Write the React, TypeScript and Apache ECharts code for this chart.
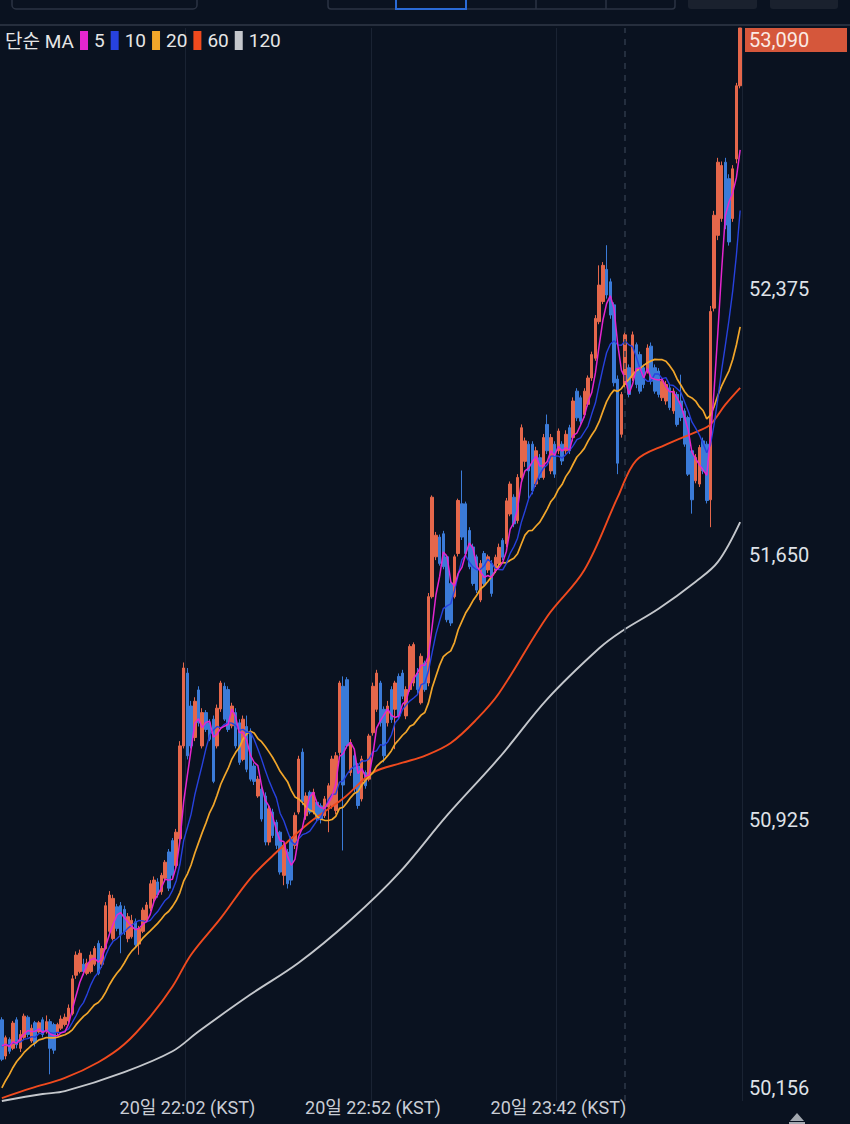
import React, { useEffect, useRef } from "react";
import * as echarts from "echarts";

// closes before the visible window (needed for the first moving-average values)
const historyCloses = [
  49940, 49960, 49975, 49985, 50100, 50130, 50150, 50160, 50180, 50204,
  50280, 50300, 50320, 50290, 50330, 50310, 50325, 50300, 50331,
];

// [open, close, low, high] — one-minute candles from 20일 21:12
const candles: number[][] = [
  [50378, 50270, 50265, 50385], [50279, 50329, 50270, 50335], [50324, 50292, 50285, 50330], [50300, 50369, 50295, 50375],
  [50378, 50310, 50300, 50385], [50300, 50338, 50290, 50350], [50330, 50388, 50325, 50395], [50385, 50338, 50330, 50390],
  [50320, 50355, 50315, 50365], [50370, 50315, 50305, 50375], [50345, 50370, 50340, 50375], [50378, 50338, 50330, 50385],
  [50345, 50373, 50340, 50390], [50373, 50300, 50229, 50380], [50365, 50295, 50285, 50370], [50345, 50365, 50335, 50370],
  [50355, 50380, 50350, 50390], [50365, 50385, 50360, 50395], [50375, 50410, 50370, 50420], [50395, 50490, 50390, 50500],
  [50500, 50555, 50490, 50565], [50510, 50560, 50505, 50570], [50530, 50510, 50500, 50545], [50505, 50533, 50500, 50545],
  [50510, 50555, 50505, 50565], [50530, 50573, 50525, 50580], [50587, 50505, 50500, 50595], [50530, 50573, 50520, 50580],
  [50573, 50690, 50570, 50700], [50620, 50719, 50610, 50730], [50600, 50710, 50595, 50720], [50687, 50628, 50620, 50695],
  [50690, 50610, 50560, 50700], [50680, 50619, 50610, 50690], [50600, 50660, 50590, 50670], [50605, 50650, 50600, 50665],
  [50646, 50583, 50575, 50655], [50585, 50628, 50556, 50635], [50620, 50678, 50615, 50685], [50650, 50692, 50645, 50700],
  [50683, 50750, 50675, 50760], [50710, 50760, 50700, 50770], [50755, 50720, 50712, 50765], [50728, 50773, 50720, 50780],
  [50765, 50809, 50755, 50815], [50837, 50738, 50730, 50845], [50868, 50773, 50765, 50875], [50800, 50891, 50790, 50900],
  [50873, 51127, 50865, 51140], [51127, 51340, 51120, 51355], [51326, 51100, 51090, 51340], [51236, 51127, 51120, 51250],
  [51150, 51249, 51140, 51260], [51280, 51190, 51180, 51290], [51127, 51218, 51120, 51230], [51218, 51172, 51165, 51225],
  [51190, 51145, 51140, 51200], [51200, 51030, 51025, 51210], [51127, 51230, 51120, 51240], [51228, 51299, 51220, 51305],
  [51290, 51200, 51195, 51300], [51281, 51172, 51165, 51290], [51182, 51236, 51175, 51245], [51218, 51127, 51120, 51230],
  [51190, 51082, 51075, 51200], [51090, 51200, 51085, 51210], [51180, 51063, 51055, 51210], [51163, 51036, 51030, 51175],
  [51072, 51030, 51020, 51080], [50990, 51036, 50985, 51045], [51009, 50927, 50920, 51015], [50990, 50864, 50855, 51000],
  [50864, 50955, 50855, 50965], [50946, 50882, 50875, 50955], [50918, 50855, 50845, 50925], [50891, 50782, 50775, 50895],
  [50773, 50855, 50746, 50860], [50837, 50750, 50737, 50845], [50873, 50760, 50746, 50880], [50855, 50937, 50845, 50945],
  [50946, 51091, 50940, 51100], [51110, 50975, 50965, 51120], [50936, 50990, 50925, 51000], [51000, 50946, 50940, 51005],
  [50946, 51000, 50940, 51010], [50973, 50927, 50920, 50980], [50963, 50927, 50915, 50970], [50936, 50982, 50930, 50990],
  [50960, 51018, 50891, 51025], [50964, 51091, 50955, 51100], [50950, 51100, 50940, 51110], [51109, 51299, 51100, 51305],
  [51290, 51020, 50841, 51317], [51308, 51127, 51120, 51315], [51054, 51136, 51045, 51145], [51100, 51009, 51000, 51110],
  [51072, 50964, 50955, 51080], [50982, 51091, 50975, 51100], [51054, 51018, 51010, 51060], [51036, 51154, 51030, 51160],
  [51163, 51290, 51155, 51300], [51227, 51326, 51220, 51335], [51299, 51190, 51180, 51305], [51227, 51100, 51082, 51235],
  [51190, 51236, 51180, 51250], [51281, 51199, 51190, 51290], [51227, 51299, 51118, 51305], [51317, 51209, 51200, 51325],
  [51326, 51263, 51255, 51335], [51209, 51281, 51200, 51290], [51281, 51399, 51275, 51405], [51299, 51404, 51290, 51410],
  [51326, 51281, 51270, 51340], [51245, 51372, 51240, 51380], [51354, 51281, 51275, 51360], [51299, 51535, 51290, 51545],
  [51535, 51807, 51530, 51812], [51644, 51703, 51635, 51712], [51698, 51626, 51620, 51705], [51707, 51617, 51610, 51715],
  [51644, 51472, 51465, 51650], [51571, 51463, 51455, 51580], [51535, 51644, 51530, 51650], [51653, 51798, 51645, 51803],
  [51789, 51698, 51690, 51880], [51789, 51653, 51645, 51795], [51716, 51617, 51610, 51725], [51671, 51571, 51565, 51680],
  [51644, 51553, 51545, 51650], [51526, 51626, 51520, 51635], [51653, 51571, 51565, 51660], [51608, 51644, 51600, 51650],
  [51626, 51544, 51535, 51635], [51607, 51643, 51600, 51650], [51625, 51670, 51615, 51680], [51689, 51643, 51635, 51695],
  [51680, 51797, 51670, 51805], [51761, 51843, 51755, 51850], [51807, 51734, 51725, 51815], [51743, 51861, 51735, 51870],
  [51861, 51997, 51855, 52006], [51905, 51961, 51890, 51970], [51952, 51879, 51800, 51960], [51952, 51825, 51815, 51960],
  [51843, 51934, 51835, 51945], [51915, 51861, 51855, 51925], [51861, 51970, 51855, 51980], [52006, 51934, 51925, 52033],
  [51879, 51970, 51870, 51980], [51952, 51870, 51860, 51960], [51934, 51988, 51925, 51995], [51952, 51906, 51895, 51960],
  [51934, 51979, 51925, 51990], [51997, 51934, 51925, 52005], [51970, 52070, 51960, 52080], [52097, 52024, 52015, 52105],
  [52079, 52015, 52005, 52085], [52033, 52097, 52025, 52105], [52061, 52133, 52055, 52140], [52133, 52197, 52125, 52205],
  [52187, 52296, 52180, 52305], [52287, 52387, 52280, 52441], [52342, 52441, 52335, 52450], [52430, 52360, 52350, 52496],
  [52396, 52305, 52295, 52405], [52333, 52120, 52110, 52340], [52130, 51900, 51870, 52140], [51979, 52088, 51970, 52095],
  [52115, 52251, 52105, 52260], [52161, 52088, 52080, 52170], [52133, 52251, 52125, 52260], [52224, 52115, 52105, 52230],
  [52197, 52097, 52090, 52205], [52161, 52115, 52105, 52170], [52152, 52215, 52145, 52225], [52220, 52124, 52115, 52230],
  [52161, 52097, 52090, 52170], [52152, 52088, 52080, 52160], [52079, 52124, 52070, 52130], [52070, 52115, 52060, 52125],
  [52106, 52052, 52045, 52115], [52043, 52097, 52035, 52105], [52088, 52006, 52000, 52095], [52070, 52025, 52015, 52142],
  [52043, 51952, 51945, 52050], [52025, 51870, 51865, 52030], [51934, 51800, 51762, 51940], [51852, 51916, 51845, 51925],
  [51843, 51943, 51835, 51950], [51961, 51879, 51870, 51970], [51952, 51798, 51790, 51960], [51800, 52315, 51725, 52330],
  [52324, 52578, 52315, 52590], [52523, 52723, 52510, 52735], [52569, 52714, 52560, 52725], [52723, 52551, 52540, 52735],
  [52678, 52505, 52495, 52690], [52569, 52705, 52560, 52715], [52732, 52932, 52720, 52940], [52932, 53090, 52925, 53090],
];

// long moving averages: [candle index, value]
const ma60Points = [
  [0, 50164], [8, 50191], [17, 50219], [26, 50262], [33, 50311], [40, 50387], [46, 50469], [51, 50556],
  [59, 50656], [67, 50765], [74, 50836], [83, 50918], [92, 50983], [100, 51054], [108, 51081], [114, 51100],
  [121, 51135], [128, 51200], [134, 51271], [147, 51481], [157, 51608], [166, 51807], [171, 51908], [179, 51951],
  [188, 51989], [191, 52006], [195, 52060], [199, 52106],
];
const ma120Points = [
  [0, 50156], [11, 50175], [17, 50183], [33, 50235], [46, 50292], [53, 50346], [67, 50447], [80, 50534],
  [94, 50651], [107, 50779], [120, 50937], [134, 51094], [147, 51255], [161, 51394], [167, 51440], [177, 51502],
  [187, 51576], [193, 51630], [199, 51739],
];

const yTickValues = [50156, 50925, 51650, 52375, 53090];
const currentPrice = 53090;
const xLabelIndices = [50, 100, 150];
const midnightIndex = 168;
const startMinute = 21 * 60 + 12;
const startDay = 20;
const maNames = ["5", "10", "20", "60", "120"];
const maColors = ["#e526cf", "#2742de", "#f2a62a", "#f04a1e", "#c4c7cc"];

const pad = (n: number) => (n < 10 ? "0" + n : "" + n);
const categories = candles.map((_, i) => {
  const m = startMinute + i;
  const day = startDay + Math.floor(m / 1440);
  const mm = m % 1440;
  return `${day}일 ${pad(Math.floor(mm / 60))}:${pad(mm % 60)} (KST)`;
});

const closes = candles.map((c) => c[1]);
const allCloses = historyCloses.concat(closes);
function movingAverage(n: number) {
  return closes.map((_, i) => {
    const end = i + historyCloses.length;
    let s = 0;
    for (let k = end - n + 1; k <= end; k++) s += allCloses[k];
    return Math.round((s / n) * 10) / 10;
  });
}

const FONT = 'Roboto, "Noto Sans CJK KR", sans-serif';
const UP = "#e5674b";
const DOWN = "#3b7bd8";
const BG = "#0a1220";

export default function App() {
  const ref = useRef<HTMLDivElement>(null);
  useEffect(() => {
    if (!ref.current) return;
    const chart = echarts.init(ref.current, undefined, { renderer: "svg" });
    const lineSeries = (name: string, data: any, color: string, width: number, smooth: number | boolean) => ({
      name,
      type: "line",
      data,
      color,
      showSymbol: false,
      symbol: "none",
      smooth,
      silent: true,
      itemStyle: { color },
      lineStyle: { color, width },
      z: 3,
    });
    chart.setOption({
      animation: false,
      backgroundColor: BG,
      grid: { left: 0, right: 105, top: 28, bottom: 17 },
      legend: {
        left: 80,
        top: 31,
        padding: 0,
        itemWidth: 8,
        itemHeight: 19,
        itemGap: 6,
        icon: "rect",
        selectedMode: false,
        data: maNames,
        textStyle: { color: "#e6e6e6", fontSize: 19, fontFamily: FONT, padding: [0, 0, 0, 1] },
      },
      xAxis: {
        type: "category",
        data: categories,
        boundaryGap: true,
        axisLine: { show: false },
        axisTick: { show: false },
        axisLabel: {
          interval: (i: number) => xLabelIndices.indexOf(i) >= 0,
          color: "#c9cdd5",
          fontSize: 18,
          fontFamily: FONT,
          margin: -3,
          verticalAlign: "top",
        },
        splitLine: {
          show: true,
          interval: (i: number) => xLabelIndices.indexOf(i) >= 0,
          lineStyle: { color: "#1a2333", width: 1 },
        },
      },
      yAxis: {
        type: "value",
        position: "right",
        min: yTickValues[0],
        max: currentPrice,
        axisLine: { show: false },
        axisTick: { show: false },
        splitLine: { show: false },
        axisLabel: {
          customValues: yTickValues,
          showMinLabel: true,
          showMaxLabel: true,
          margin: 3,
          formatter: (v: number) => {
            const s = Math.round(v).toLocaleString("en-US");
            if (Math.round(v) === currentPrice) return `{e| }\n{cur|${s}}`;
            if (Math.round(v) === yTickValues[0]) return `{n|${s}}\n{e2| }`;
            return `{n|${s}}`;
          },
          rich: {
            n: { color: "#dfe2e8", fontSize: 20, fontFamily: FONT, padding: [0, 0, 0, 4], lineHeight: 26 },
            e: { fontSize: 20, lineHeight: 24 },
            e2: { fontSize: 20, lineHeight: 26 },
            cur: {
              color: "#fbebe5",
              backgroundColor: "#d5573b",
              fontSize: 20,
              fontFamily: FONT,
              padding: [0, 0, 0, 4],
              width: 98,
              height: 24,
              lineHeight: 24,
            },
          },
        },
      },
      series: [
        {
          type: "candlestick",
          data: candles,
          barWidth: 3,
          silent: true,
          itemStyle: { color: UP, color0: DOWN, borderColor: UP, borderColor0: DOWN, borderWidth: 1 },
          markLine: {
            silent: true,
            symbol: ["none", "none"],
            label: { show: false },
            lineStyle: { color: "#2e3848", type: [6, 6], width: 1.5 },
            data: [{ xAxis: categories[midnightIndex] }],
          },
          z: 2,
        },
        lineSeries(maNames[4], ma120Points, maColors[4], 1.9, 0.35),
        lineSeries(maNames[3], ma60Points, maColors[3], 1.9, 0.35),
        lineSeries(maNames[2], movingAverage(20), maColors[2], 1.7, false),
        lineSeries(maNames[1], movingAverage(10), maColors[1], 1.4, false),
        lineSeries(maNames[0], movingAverage(5), maColors[0], 1.5, false),
      ],
      graphic: [
        { type: "line", shape: { x1: 0, y1: 25, x2: 850, y2: 25 }, style: { stroke: "#303847", lineWidth: 1.5 }, silent: true },
        { type: "rect", shape: { x: 12, y: -10, width: 185, height: 19, r: 4 }, style: { fill: "none", stroke: "#2b3343", lineWidth: 1.5 }, silent: true },
        { type: "rect", shape: { x: 328, y: -10, width: 347, height: 19, r: 3 }, style: { fill: "none", stroke: "#2b3343", lineWidth: 1.5 }, silent: true },
        { type: "line", shape: { x1: 536, y1: -10, x2: 536, y2: 9 }, style: { stroke: "#2b3343", lineWidth: 1.5 }, silent: true },
        { type: "line", shape: { x1: 606, y1: -10, x2: 606, y2: 9 }, style: { stroke: "#2b3343", lineWidth: 1.5 }, silent: true },
        { type: "line", shape: { x1: 466, y1: -10, x2: 466, y2: 9 }, style: { stroke: "#2b3343", lineWidth: 1.5 }, silent: true },
        { type: "rect", shape: { x: 396, y: -10, width: 70, height: 19 }, style: { fill: "none", stroke: "#2a6ad6", lineWidth: 2 }, silent: true },
        { type: "rect", shape: { x: 688, y: -10, width: 69, height: 19, r: 3 }, style: { fill: "#1a212e" }, silent: true },
        { type: "rect", shape: { x: 770, y: -10, width: 68, height: 19, r: 3 }, style: { fill: "#1a212e" }, silent: true },
        {
          type: "text",
          x: 5,
          y: 41,
          silent: true,
          style: { text: "단순 MA", fill: "#e6e6e6", fontSize: 19, fontFamily: FONT, verticalAlign: "middle", textVerticalAlign: "middle" },
        },
        { type: "polygon", shape: { points: [[790, 1121], [797, 1113], [804, 1121]] }, style: { fill: "#a3a8b0" }, silent: true },
        { type: "rect", shape: { x: 789, y: 1122, width: 16, height: 2 }, style: { fill: "#a3a8b0" }, silent: true },
      ],
    });
    return () => chart.dispose();
  }, []);
  return (
    <div
      ref={ref}
      style={{ position: "fixed", left: 0, top: 0, width: 850, height: 1124, background: BG }}
    />
  );
}
